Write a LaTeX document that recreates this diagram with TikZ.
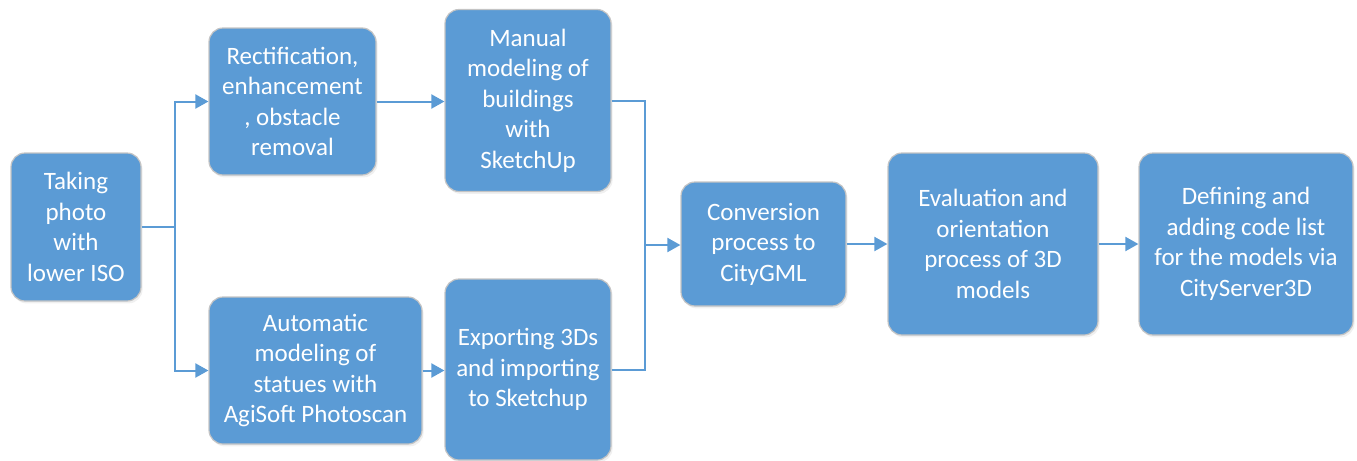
\documentclass[tikz,border=0pt]{standalone}
\usepackage{fontspec}
\setmainfont{Carlito}
\usetikzlibrary{arrows.meta,shadows}
\definecolor{blu}{HTML}{5B9BD5}
\definecolor{rim}{HTML}{C4C4C4}
\begin{document}
\begin{tikzpicture}[x=0.5pt,y=-0.5pt,
    blk/.style={draw=rim, line width=0.6pt, fill=blu, text=white, rounded corners=7pt,
      align=center, inner sep=0pt, font=\fontsize{12.5}{15.25}\selectfont,
      drop shadow={shadow xshift=0.8pt, shadow yshift=-1.2pt, opacity=0.12}},
    ln/.style={draw=blu, line width=1pt},
    arr/.style={ln, -{Triangle[length=6.5pt,width=7pt]}}]
\useasboundingbox (0,0) rectangle (1357,461);
% boxes
\node[blk, minimum width=65pt, minimum height=74pt] (photo) at (76,227) {Taking\\photo\\with\\lower ISO};
\node[blk, minimum width=83.5pt, minimum height=73.5pt] (rect) at (292.5,101.5) {Rectification,\\enhancement\\, obstacle\\removal};
\node[blk, minimum width=83pt, minimum height=91pt] (manual) at (528,100.5) {Manual\\modeling of\\buildings\\with\\SketchUp};
\node[blk, minimum width=106.5pt, minimum height=73.5pt] (auto) at (315.5,370.5) {Automatic\\modeling of\\statues with\\AgiSoft Photoscan};
\node[blk, minimum width=83pt, minimum height=90.5pt] (export) at (528,369.5) {Exporting 3Ds\\and importing\\to Sketchup};
\node[blk, minimum width=82.5pt, minimum height=62pt] (conv) at (763.5,244) {Conversion\\process to\\CityGML};
\node[blk, minimum width=105pt, minimum height=91pt] (eval) at (993,244) {Evaluation and\\orientation\\process of 3D\\models};
\node[blk, minimum width=107pt, minimum height=91pt] (code) at (1246,244) {Defining and\\adding code list\\for the models via\\CityServer3D};
% connectors
\coordinate (split) at (175,227);
\coordinate (merge) at (645,245);
\draw[ln] (photo) -- (split);
\draw[arr] (split) |- (rect);
\draw[arr] (split) |- (auto);
\draw[arr] (rect) -- (manual.west |- rect);
\draw[arr] (auto) -- (export.west |- auto);
\draw[ln] (manual.east) -| (merge);
\draw[ln] (export.east) -| (merge);
\draw[arr] (merge) -- (conv.west |- merge);
\draw[arr] (conv) -- (eval);
\draw[arr] (eval) -- (code);
\end{tikzpicture}
\end{document}
